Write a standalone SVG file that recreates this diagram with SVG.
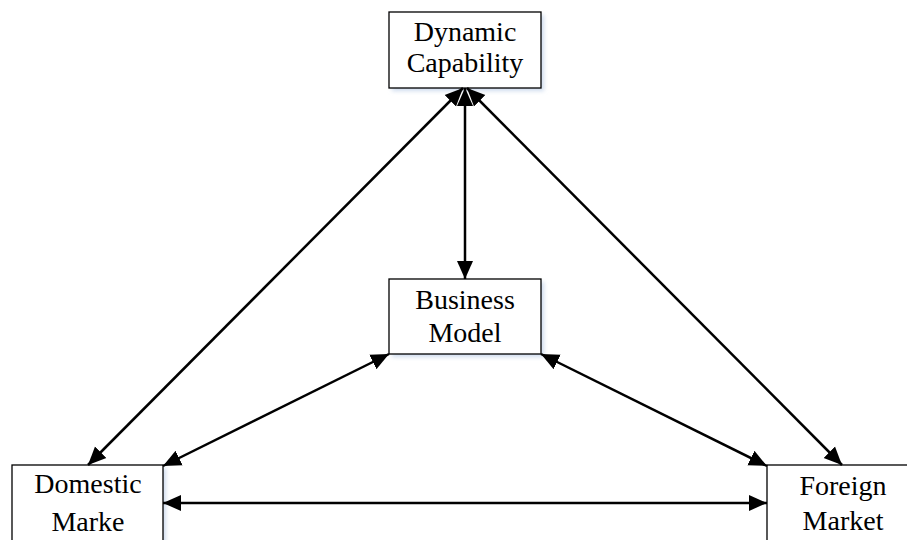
<svg xmlns="http://www.w3.org/2000/svg" width="907" height="540" viewBox="0 0 907 540">
<style>
.box{fill:#fff;stroke:#000;stroke-width:1.3}
.shadow{fill:#cfdcee;filter:url(#blur)}
.lbl{font-family:"Liberation Serif","Times New Roman",serif;font-size:28px;fill:#000;text-anchor:middle}
.conn{stroke:#000;stroke-width:2.5;fill:none;marker-start:url(#ah);marker-end:url(#ah)}
</style>
<defs>
<filter id="blur" x="-10%" y="-10%" width="120%" height="130%"><feGaussianBlur stdDeviation="2"/></filter>
<marker id="ah" markerUnits="userSpaceOnUse" markerWidth="19" markerHeight="18" refX="18" refY="9" orient="auto-start-reverse">
<path d="M0,1 L18,9 L0,17 z" fill="#000"/>
</marker>
</defs>
<rect width="907" height="540" fill="#fff"/>
<g id="dynamic-capability">
<rect class="shadow" x="392" y="15" width="152" height="76"/>
<rect class="box" x="389" y="12" width="152" height="76"/>
<text class="lbl" x="465" y="41">Dynamic</text>
<text class="lbl" x="465" y="72">Capability</text>
</g>
<g id="business-model">
<rect class="shadow" x="392" y="282" width="152" height="75"/>
<rect class="box" x="389" y="279" width="152" height="75"/>
<text class="lbl" x="465" y="309">Business</text>
<text class="lbl" x="465" y="342">Model</text>
</g>
<g id="domestic-market">
<rect class="shadow" x="15" y="468" width="151" height="90"/>
<rect class="box" x="12" y="465" width="151" height="90"/>
<text class="lbl" x="88" y="493">Domestic</text>
<text class="lbl" x="88" y="531">Marke</text>
</g>
<g id="foreign-market">
<rect class="shadow" x="770" y="468" width="151" height="90"/>
<rect class="box" x="767" y="465" width="151" height="90"/>
<text class="lbl" x="843" y="495">Foreign</text>
<text class="lbl" x="843" y="530">Market</text>
</g>
<g id="connectors">
<line class="conn" x1="465" y1="88" x2="465" y2="279"/>
<line class="conn" x1="463" y1="88" x2="88" y2="465"/>
<line class="conn" x1="467" y1="88" x2="842" y2="465"/>
<line class="conn" x1="389" y1="354" x2="163" y2="466"/>
<line class="conn" x1="541" y1="354" x2="767" y2="466"/>
<line class="conn" x1="163" y1="503" x2="767" y2="503"/>
</g>
</svg>
